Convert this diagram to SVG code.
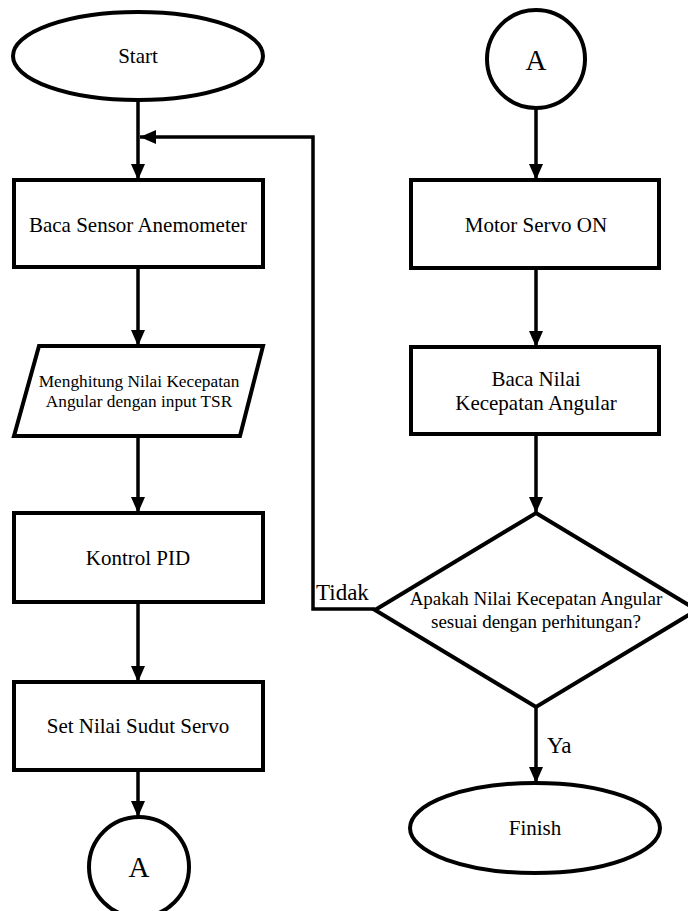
<svg xmlns="http://www.w3.org/2000/svg" width="688" height="911" viewBox="0 0 688 911" font-family="'Liberation Serif', 'DejaVu Serif', serif">
<defs>
<style>
.s{fill:#fff;stroke:#000;stroke-width:4}
.c{fill:none;stroke:#000;stroke-width:3.5}
text{font-family:'Liberation Serif','DejaVu Serif',serif;fill:#000;text-anchor:middle}
.t{font-size:21px}
.m{font-size:17.3px}
.d{font-size:19px}
.l{font-size:23px;text-anchor:start}
.a{font-size:29px}
</style>
<marker id="ah" viewBox="0 0 16 14" refX="16" refY="7" markerWidth="16" markerHeight="14" markerUnits="userSpaceOnUse" orient="auto">
<path d="M0,0 L16,7 L0,14 Z" fill="#000"/>
</marker>
</defs>
<g id="connectors">
<path class="c" d="M138,100 V180" marker-end="url(#ah)"/>
<path class="c" d="M138,267 V346" marker-end="url(#ah)"/>
<path class="c" d="M138,436 V513" marker-end="url(#ah)"/>
<path class="c" d="M138,602 V682" marker-end="url(#ah)"/>
<path class="c" d="M138,770 V817" marker-end="url(#ah)"/>
<path class="c" d="M536,108 V180" marker-end="url(#ah)"/>
<path class="c" d="M536,268 V347" marker-end="url(#ah)"/>
<path class="c" d="M536,434 V513" marker-end="url(#ah)"/>
<path class="c" d="M536,707 V783" marker-end="url(#ah)"/>
<path class="c" d="M375,609 H313 V137 H140" marker-end="url(#ah)"/>
<text class="l" x="316" y="600">Tidak</text>
<text class="l" x="547" y="753">Ya</text>
</g>
<g id="start">
<ellipse class="s" cx="138" cy="56" rx="125" ry="44"/>
<text class="t" x="138" y="63">Start</text>
</g>
<g id="baca-sensor">
<rect class="s" x="14" y="180" width="249" height="87"/>
<text class="t" x="138" y="232">Baca Sensor Anemometer</text>
</g>
<g id="menghitung">
<polygon class="s" points="39,346 263,346 240,436 14,436"/>
<text class="m" x="139" y="387">Menghitung Nilai Kecepatan</text>
<text class="m" x="139" y="407">Angular dengan input TSR</text>
</g>
<g id="kontrol-pid">
<rect class="s" x="14" y="513" width="249" height="89"/>
<text class="t" x="138" y="565">Kontrol PID</text>
</g>
<g id="set-nilai">
<rect class="s" x="14" y="682" width="249" height="88"/>
<text class="t" x="138" y="733">Set Nilai Sudut Servo</text>
</g>
<g id="connector-a-out">
<circle class="s" cx="139" cy="867" r="50"/>
<text class="a" x="139" y="877">A</text>
</g>
<g id="connector-a-in">
<circle class="s" cx="536" cy="59" r="49"/>
<text class="a" x="536" y="70">A</text>
</g>
<g id="motor-servo">
<rect class="s" x="411" y="180" width="248" height="88"/>
<text class="t" x="536" y="232">Motor Servo ON</text>
</g>
<g id="baca-nilai">
<rect class="s" x="411" y="347" width="248" height="87"/>
<text class="t" x="536" y="386">Baca Nilai</text>
<text class="t" x="536" y="410">Kecepatan Angular</text>
</g>
<g id="decision">
<polygon class="s" points="536,513 697,610 536,707 375,610"/>
<text class="d" x="536" y="605">Apakah Nilai Kecepatan Angular</text>
<text class="d" x="536" y="628">sesuai dengan perhitungan?</text>
</g>
<g id="finish">
<ellipse class="s" cx="535" cy="828" rx="125" ry="45"/>
<text class="t" x="535" y="835">Finish</text>
</g>
</svg>
